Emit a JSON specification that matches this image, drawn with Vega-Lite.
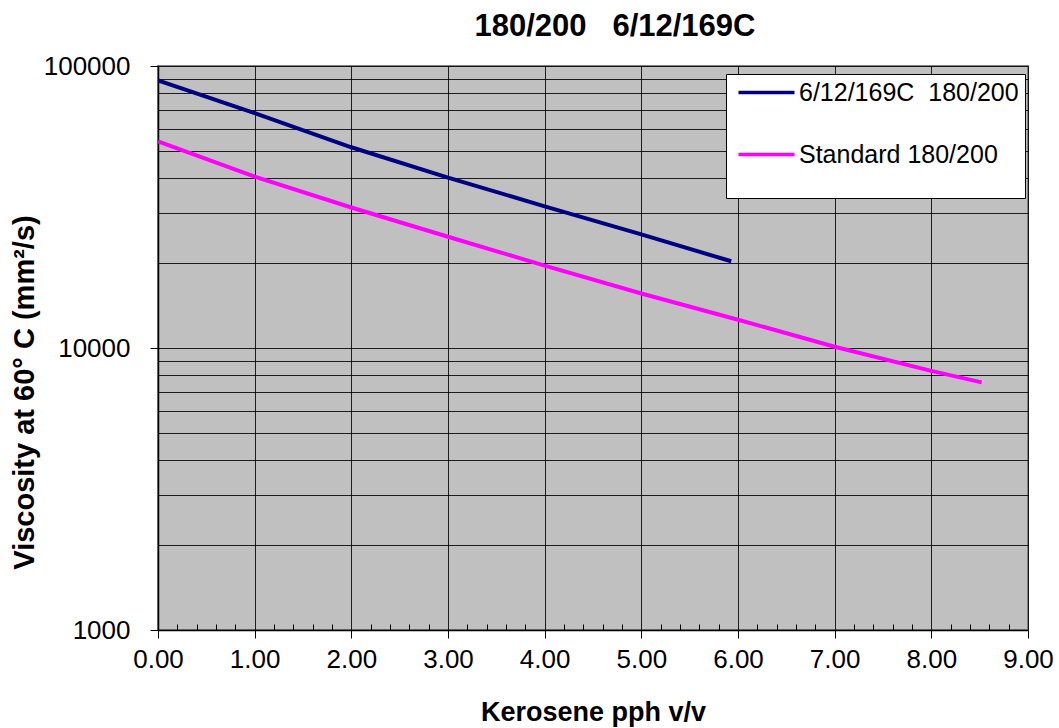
{
  "$schema": "https://vega.github.io/schema/vega-lite/v6.json",
  "width": 870,
  "height": 564,
  "autosize": {"type": "none"},
  "padding": {"left": 158, "top": 66, "right": 31, "bottom": 98},
  "background": "white",
  "title": {
    "text": "180/200\u00a0\u00a0 6/12/169C",
    "font": "Liberation Sans",
    "fontSize": 31,
    "fontWeight": "bold",
    "color": "black",
    "anchor": "middle",
    "dx": 22,
    "offset": 10
  },
  "config": {
    "view": {"fill": "#C0C0C0", "stroke": "#808080", "strokeWidth": 2},
    "axis": {
      "labelFont": "Liberation Sans",
      "titleFont": "Liberation Sans",
      "labelColor": "black",
      "titleColor": "black",
      "domainColor": "black",
      "tickColor": "black",
      "gridColor": "black",
      "gridWidth": 1
    }
  },
  "data": {
    "values": [
      {"kerosene": 0.0, "viscosity": 89000, "series": "6/12/169C  180/200"},
      {"kerosene": 1.0, "viscosity": 68000, "series": "6/12/169C  180/200"},
      {"kerosene": 2.0, "viscosity": 51500, "series": "6/12/169C  180/200"},
      {"kerosene": 3.0, "viscosity": 40200, "series": "6/12/169C  180/200"},
      {"kerosene": 4.0, "viscosity": 31800, "series": "6/12/169C  180/200"},
      {"kerosene": 5.0, "viscosity": 25300, "series": "6/12/169C  180/200"},
      {"kerosene": 5.93, "viscosity": 20300, "series": "6/12/169C  180/200"},
      {"kerosene": 0.0, "viscosity": 54000, "series": "Standard 180/200"},
      {"kerosene": 1.0, "viscosity": 40500, "series": "Standard 180/200"},
      {"kerosene": 2.0, "viscosity": 31500, "series": "Standard 180/200"},
      {"kerosene": 3.0, "viscosity": 24800, "series": "Standard 180/200"},
      {"kerosene": 4.0, "viscosity": 19600, "series": "Standard 180/200"},
      {"kerosene": 5.0, "viscosity": 15600, "series": "Standard 180/200"},
      {"kerosene": 6.0, "viscosity": 12600, "series": "Standard 180/200"},
      {"kerosene": 7.0, "viscosity": 10100, "series": "Standard 180/200"},
      {"kerosene": 8.0, "viscosity": 8300, "series": "Standard 180/200"},
      {"kerosene": 8.52, "viscosity": 7550, "series": "Standard 180/200"}
    ]
  },
  "mark": {"type": "line", "strokeWidth": 4, "strokeCap": "butt", "clip": true},
  "encoding": {
    "x": {
      "field": "kerosene",
      "type": "quantitative",
      "scale": {"domain": [0, 9], "nice": false, "zero": false},
      "axis": {
        "title": "Kerosene pph v/v",
        "titleFontSize": 27,
        "titleFontWeight": "bold",
        "titleBaseline": "alphabetic",
        "titleY": 90,
        "values": [0, 0.2, 0.4, 0.6, 0.8, 1, 1.2, 1.4, 1.6, 1.8, 2, 2.2, 2.4, 2.6, 2.8, 3, 3.2, 3.4, 3.6, 3.8, 4, 4.2, 4.4, 4.6, 4.8, 5, 5.2, 5.4, 5.6, 5.8, 6, 6.2, 6.4, 6.6, 6.8, 7, 7.2, 7.4, 7.6, 7.8, 8, 8.2, 8.4, 8.6, 8.8, 9],
        "format": ".2f",
        "labelExpr": "(datum.value % 1 == 0) ? datum.label : ''",
        "labelFontSize": 26,
        "labelPadding": 8,
        "tickSize": {"condition": {"test": "datum.value % 1 == 0", "value": 8}, "value": -6},
        "grid": true,
        "gridOpacity": {"condition": {"test": "datum.value % 1 == 0", "value": 0.85}, "value": 0},
        "labelFlush": false,
        "labelOverlap": false,
        "domainWidth": 1.5
      }
    },
    "y": {
      "field": "viscosity",
      "type": "quantitative",
      "scale": {"type": "log", "domain": [1000, 100000], "nice": false},
      "axis": {
        "title": "Viscosity at 60\u00b0 C (mm\u00b2/s)",
        "titleFontSize": 29,
        "titleFontWeight": "bold",
        "titleAngle": -90,
        "titleBaseline": "alphabetic",
        "titleAlign": "center",
        "titleX": -125,
        "titleY": 326,
        "values": [1000, 2000, 3000, 4000, 5000, 6000, 7000, 8000, 9000, 10000, 20000, 30000, 40000, 50000, 60000, 70000, 80000, 90000, 100000],
        "format": "d",
        "labelExpr": "(datum.value == 1000 || datum.value == 10000 || datum.value == 100000) ? datum.label : ''",
        "labelFontSize": 26,
        "labelPadding": 20,
        "labelOverlap": false,
        "labelFlush": false,
        "tickSize": 8,
        "tickOpacity": {"condition": {"test": "datum.value == 1000 || datum.value == 10000 || datum.value == 100000", "value": 1}, "value": 0},
        "grid": true,
        "gridOpacity": 0.85,
        "domainWidth": 1.5
      }
    },
    "color": {
      "field": "series",
      "type": "nominal",
      "scale": {"domain": ["6/12/169C  180/200", "Standard 180/200"], "range": ["#000080", "#FF00FF"]},
      "legend": {
        "title": "\u00a0",
        "titleOrient": "bottom",
        "titleFontSize": 10,
        "titlePadding": 14,
        "orient": "none",
        "legendX": 568,
        "legendY": 8,
        "fillColor": "white",
        "strokeColor": "black",
        "padding": 6,
        "symbolType": "M-1.2,0H10",
        "symbolSize": 100,
        "symbolStrokeWidth": 3.5,
        "labelFont": "Liberation Sans",
        "labelFontSize": 25,
        "labelColor": "black",
        "labelOffset": 42,
        "labelLimit": 400,
        "rowPadding": 36,
        "labelExpr": "replace(datum.label, '  ', '\u00a0 ')"
      }
    }
  }
}
